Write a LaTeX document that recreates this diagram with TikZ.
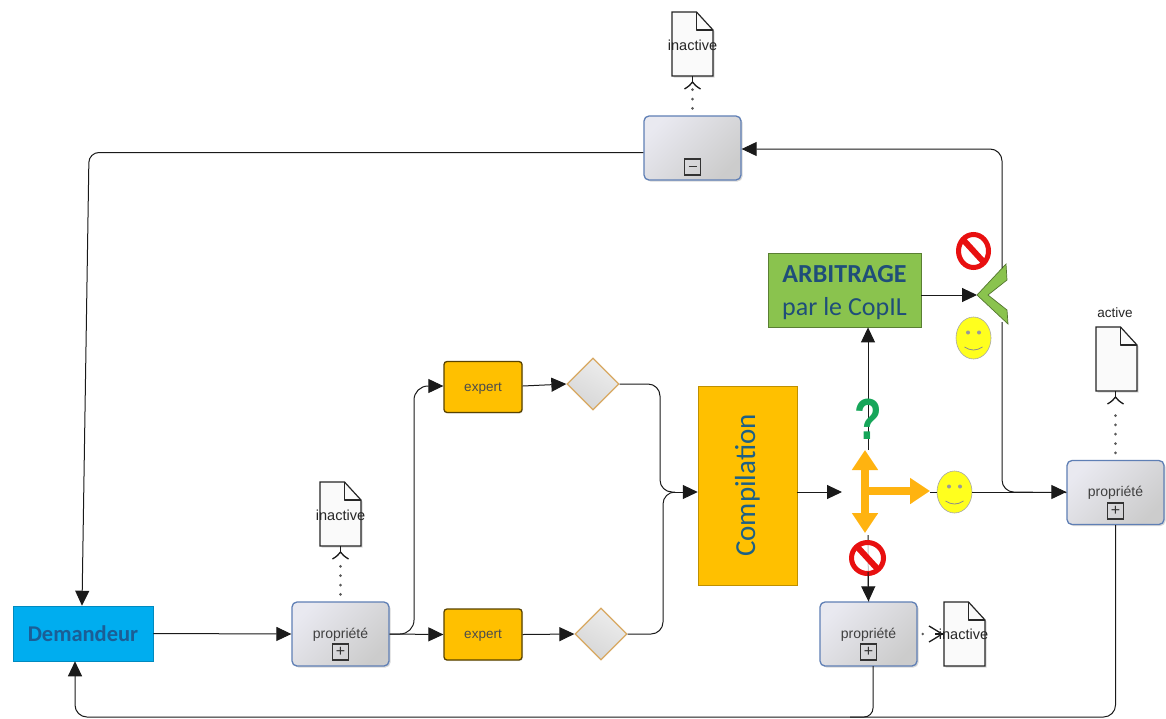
\documentclass[tikz,border=0pt]{standalone}
\usepackage{fontspec}
\setmainfont{Liberation Sans}
\newfontfamily\calfont{Carlito}
\usetikzlibrary{arrows.meta,shapes.geometric,shadows,calc}
\definecolor{boxedge}{HTML}{5F7FB5}
\definecolor{flowc}{HTML}{1A1A1A}
\definecolor{amber}{HTML}{FFC000}
\definecolor{arrowamber}{HTML}{FFB310}
\definecolor{leaf}{HTML}{8AC34E}
\definecolor{navy}{HTML}{1F4E79}
\definecolor{sky}{HTML}{00ADEF}
\definecolor{demtext}{HTML}{1B5E96}
\definecolor{gateedge}{HTML}{D8A860}
\definecolor{stopred}{HTML}{E81010}
\definecolor{smileyel}{HTML}{FFFF1E}
\definecolor{qgreen}{HTML}{17A65A}
\tikzset{
  flow/.style={draw=flowc,line width=1pt,-{Triangle[length=15pt,width=14pt]}},
  plain/.style={draw=flowc,line width=1pt},
  assoc/.style={draw=black!65,line width=3pt,dash pattern=on 0.01pt off 9.3pt,line cap=round},
  barbline/.style={draw=flowc,line width=1.3pt,line join=round},
  taskbox/.style={rectangle,rounded corners=5pt,draw=boxedge,line width=1.3pt,minimum width=97pt,minimum height=64pt,inner sep=0pt,
    left color=blue!3!white!94!black,right color=black!20,shading angle=45,
    drop shadow={shadow xshift=1.5pt,shadow yshift=-1.5pt,opacity=.3},font=\fontsize{14}{16}\selectfont,text=black!75},
  markbox/.style={rectangle,draw=black!80,line width=1.1pt,minimum size=16pt,inner sep=0pt,font=\fontsize{16}{16}\selectfont,text=black!80},
  expertbox/.style={rectangle,rounded corners=3pt,fill=amber,draw=black!65!amber,line width=1.3pt,minimum width=78pt,minimum height=51pt,inner sep=0pt,
    font=\fontsize{13.5}{15}\selectfont,text=black!70,drop shadow={shadow xshift=1pt,shadow yshift=-1pt,opacity=.2}},
  gate/.style={diamond,draw=gateedge,line width=1.3pt,minimum width=52pt,minimum height=52pt,inner sep=0pt,
    top color=black!7,bottom color=black!16,shading angle=-30},
  smile/.style={ellipse,fill=smileyel,draw=black!35,line width=.6pt,minimum width=35pt,minimum height=42pt,inner sep=0pt},
  stopsign/.style={ellipse,fill=white,draw=stopred,line width=5pt,inner sep=0pt},
  docbody/.style={fill=white!98!black,draw=black!85,line width=1.2pt,drop shadow={shadow xshift=1.5pt,shadow yshift=-1.5pt,opacity=.3}},
  doclabel/.style={font=\fontsize{14.5}{16}\selectfont,text=black!85,inner sep=0pt},
  orangearrow/.style={draw=arrowamber,line width=7.5pt,-{Triangle[length=20pt,width=25pt]}}
}
% document: (name)(centre x)(centre y)
\newcommand{\docsym}[3]{%
  \coordinate (#1) at (#2,#3);
  \coordinate (#1S) at (#2,#3+32);
  \coordinate (#1W) at (#2-20.5,#3);
  \path[docbody] (#2-20.5,#3-32) -- (#2+4,#3-32) -- (#2+20.5,#3-14) -- (#2+20.5,#3+32) -- (#2-20.5,#3+32) -- cycle;
  \draw[draw=black!85,line width=1.2pt,line join=round] (#2+4,#3-32) -- (#2+4,#3-14) -- (#2+20.5,#3-14);
}
% vertical crow's foot under a document
\newcommand{\barbup}[1]{%
  \draw[barbline] (#1) -- ($(#1)+(0,6.5)$);
  \draw[barbline] ($(#1)+(-8,13)$) .. controls ($(#1)+(-4,10.5)$) and ($(#1)+(-1.5,8.5)$) .. ($(#1)+(0,6)$) .. controls ($(#1)+(1.5,8.5)$) and ($(#1)+(4,10.5)$) .. ($(#1)+(8,13)$);
}
\newcommand{\facedraw}[1]{%
  \fill[black!40] ($(#1)+(-5.5,-5.5)$) circle (2pt) ($(#1)+(5.5,-5.5)$) circle (2pt);
  \draw[black!45,line width=.8pt] ($(#1)+(-9,9)$) .. controls ($(#1)+(-3,13)$) and ($(#1)+(3,13)$) .. ($(#1)+(9,9)$);
}
\newcommand{\stopbar}[1]{%
  \draw[stopred,line width=6pt] ($(#1)+(-11,-12)$) -- ($(#1)+(11,12)$);
}
\newcommand{\lowered}[1]{\raisebox{-4.3pt}[0pt][0pt]{#1}}
\begin{document}
\begin{tikzpicture}[x=1pt,y=-1pt]
\useasboundingbox (0,0) rectangle (1166,718);
\fill[white] (0,0) rectangle (1166,718);

% nodes
\node[rectangle,fill=sky,draw=sky!80!black,line width=.5pt,minimum width=140pt,minimum height=55pt,inner sep=0pt,text=demtext,font=\calfont\bfseries\fontsize{22.5}{24}\selectfont] (dem) at (83,633.5) {Demandeur};
\node[taskbox] (p1) at (340.5,634) {\lowered{propriété}};
\node[markbox] (p1m) at (340.5,652) {+};
\node[taskbox] (pm) at (692.5,148) {};
\node[markbox] (pmm) at (692.5,167) {\rule[2pt]{8pt}{1pt}};
\node[taskbox] (pr) at (1115.5,492.5) {\lowered{propriété}};
\node[markbox] (prm) at (1115.5,511) {+};
\node[taskbox] (pb) at (868.5,634) {\lowered{propriété}};
\node[markbox] (pbm) at (868.5,652) {+};
\node[expertbox] (e1) at (483,387) {\lowered{expert}};
\node[expertbox] (e2) at (483,634.5) {\lowered{expert}};
\node[gate] (g1) at (593,384) {};
\node[gate] (g2) at (601,634) {};
\node[rectangle,fill=amber,draw=black!25!amber,line width=.5pt,minimum width=99pt,minimum height=199pt,inner sep=0pt] (comp) at (747.5,485.5) {};
\node[rotate=90,text=navy!90!cyan,font=\calfont\fontsize{29}{32}\selectfont] (compt) at (747.5,485.5) {Compilation};
\node[rectangle,fill=leaf,draw=black!35!leaf,line width=.8pt,minimum width=153pt,minimum height=74pt,inner sep=0pt,align=center,text=navy,font=\calfont\fontsize{26}{33}\selectfont] (arb) at (844.5,290) {\rule{0pt}{22pt}\textbf{ARBITRAGE}\\par le CopIL};

% documents
\docsym{d1}{340.5}{514}
\docsym{d2}{692.5}{44}
\docsym{d3}{1116.5}{359}
\docsym{d4}{964.5}{634}
\node[doclabel] (d1t) at ($(d1)+(0,1)$) {inactive};
\node[doclabel] (d2t) at ($(d2)+(0,1)$) {inactive};
\node[doclabel,font=\fontsize{13.5}{15}\selectfont] (d3t) at (1115,313) {active};

% chevron
\path[fill=leaf,draw=black!40!leaf,line width=.7pt] (977,295) -- (1006,264) -- (1007,280) -- (988,295) -- (1007,310) -- (1008,324) -- cycle;
\coordinate (chev) at (977,295);
\coordinate (chevtop) at (1002,268);
\coordinate (chevbot) at (1002,322);

% free points
\coordinate (rj) at (1002,492);
\coordinate (mid) at (842,492);
\coordinate (orc) at (865,491);
\coordinate (oru) at (865,450);
\coordinate (ord) at (865,533);
\coordinate (orr) at (930,491);
\coordinate (cj) at (672,492);

% faces and signs
\node[smile] (s1) at (973.5,338) {};
\facedraw{s1}
\node[smile] (s2) at (954.5,492) {};
\facedraw{s2}

% connectors
\draw[flow,rounded corners=10pt] (pm.west |- 0,152.5) -- (89,152.5) -- (dem.north -| 82,0);
\draw[flow,rounded corners=12pt] (chevtop) |- (pm.east |- 0,149);
\draw[plain,rounded corners=12pt] (chevbot) -- (rj) -- (pr.west);
\draw[flow] (s2.east) -- (pr.west |- s2.east);
\draw[flow] (arb.east |- chev) -- (chev);
\draw[flow] (868,450) -- (arb.south -| 868,0);
\draw[flow] (comp.east |- mid) -- (mid);
\draw[plain] (orr |- s2.west) -- (s2.west);
\draw[flow] (dem.east) -- (p1.west);
\draw[flow] (p1.east) -- (e2.west);
\draw[flow,rounded corners=14pt] (p1.east) -| (414,386) -- (e1.west |- 0,386);
\draw[flow] (e1.east |- 0,386) -- (g1.west);
\draw[flow] (e2.east) -- (g2.west);
\draw[plain,rounded corners=12pt] (g1.east) -| (660,492) -- (cj);
\draw[plain,rounded corners=12pt] (g2.east) -| (663,492) -- (cj);
\draw[flow] (cj) -- (comp.west |- cj);
\draw[flow,rounded corners=12pt] (pr.south) -- (1115.5,717) -- (75,717) -- (dem.south -| 75,0);
\draw[plain,rounded corners=9pt] (873,666) -- (873,717) -- (850,717);

% associations
\draw[assoc] ($(p1.north)+(0,-7)$) -- ($(d1S)+(0,19)$);
\barbup{d1S}
\draw[assoc] ($(pm.north)+(0,-7)$) -- ($(d2S)+(0,12)$);
\barbup{d2S}
\draw[assoc] ($(pr.north)+(0,-7)$) -- ($(d3S)+(-1,16)$);
\coordinate (d3B) at ($(d3S)+(-1,0)$);
\barbup{d3B}
\fill[black!65] ($(pb.east)+(5,0)$) circle (1.4pt);
\draw[barbline] (d4W) -- ($(d4W)+(-9,0)$);
\draw[barbline] ($(d4W)+(-15,-8)$) .. controls ($(d4W)+(-10,-5)$) and ($(d4W)+(-5,-2)$) .. ($(d4W)+(-2,0)$) .. controls ($(d4W)+(-5,2)$) and ($(d4W)+(-10,5)$) .. ($(d4W)+(-15,8)$);
\node[doclabel] (d4t) at ($(d4)+(-1,0)$) {inactive};

% orange cross
\draw[orangearrow] (orc) -- (oru);
\draw[orangearrow] (orc) -- (ord);
\draw[orangearrow] (orc) -- (orr);

% question mark
\node[text=qgreen,inner sep=0pt,xscale=.78,transform shape,font=\bfseries\fontsize{58}{60}\selectfont] (qm) at (868,419) {?};

% stop signs
\draw[plain] (868,535) -- (pb.north);
\node[stopsign,fill=white,fill opacity=.75,draw opacity=1,minimum width=32pt,minimum height=31pt] (st2) at (867.5,558) {};
\stopbar{st2}
\draw[flow] (868,572) -- (pb.north);
\node[stopsign,minimum width=30pt,minimum height=33pt] (st1) at (973.5,251) {};
\stopbar{st1}
\end{tikzpicture}
\end{document}
